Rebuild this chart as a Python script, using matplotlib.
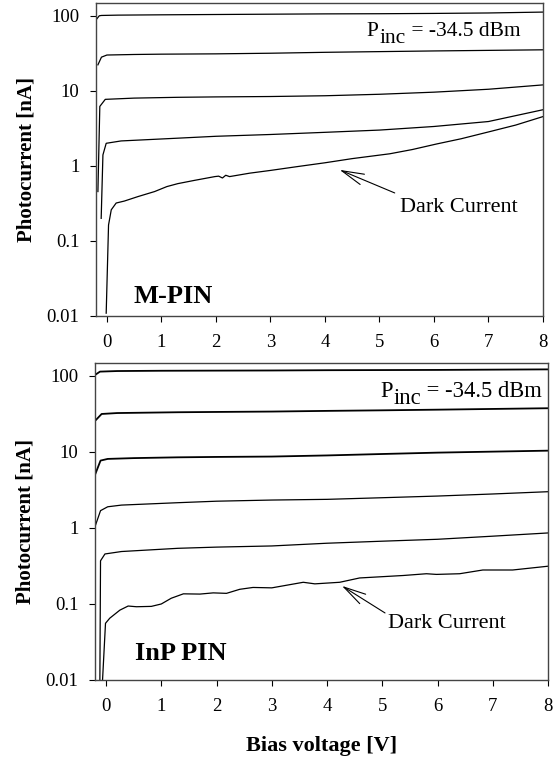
import matplotlib
matplotlib.use("Agg")
import matplotlib.pyplot as plt

plt.rcParams['font.family'] = ['Liberation Serif', 'DejaVu Serif']

# ---------------- M-PIN (top panel) ----------------
mpin_c1_v = [-0.2, -0.14, -0.1, 0.2, 1, 2, 3, 4, 5, 6, 7, 8]
mpin_c1_i = [88, 100, 101, 102, 103, 104, 105, 106, 106.5, 107.5, 109, 112]
mpin_c2_v = [-0.165, -0.1, 0.0, 0.5, 1, 2, 3, 4, 5, 6, 7, 8]
mpin_c2_i = [22.2, 28.1, 30.0, 30.5, 30.8, 31.1, 31.7, 32.6, 33.3, 34.0, 34.6, 35.2]
mpin_c3_v = [-0.165, -0.13, -0.03, 0.5, 1.3, 2, 3, 4, 5, 6, 7, 8]
mpin_c3_i = [0.455, 6.2, 7.7, 8.0, 8.2, 8.3, 8.4, 8.6, 9.0, 9.6, 10.5, 12.0]
mpin_c4_v = [-0.105, -0.073, -0.013, 0.26, 1.3, 2, 3, 4, 5, 6, 7, 8]
mpin_c4_i = [0.2, 1.4, 2.0, 2.15, 2.34, 2.48, 2.62, 2.8, 3.0, 3.35, 3.9, 5.6]
mpin_dark_v = [-0.013, 0.03, 0.08, 0.17, 0.32, 0.57, 0.875, 1.1, 1.3, 1.6, 1.98, 2.05,
               2.12, 2.18, 2.25, 2.62, 3.0, 3.5, 4.0, 4.5, 5.19, 5.6, 6.05, 6.5, 7.03, 7.5, 8.0]
mpin_dark_i = [0.0109, 0.163, 0.26, 0.32, 0.34, 0.39, 0.455, 0.53, 0.58, 0.64, 0.72, 0.73,
               0.69, 0.75, 0.72, 0.80, 0.87, 0.98, 1.1, 1.25, 1.45, 1.65, 1.96, 2.3, 2.87, 3.5, 4.54]

# ---------------- InP PIN (bottom panel) ----------------
inp_c1_v = [-0.2, -0.11, 0.2, 1, 2, 3, 4, 5, 6, 7, 8]
inp_c1_i = [103, 114, 116, 117, 117.5, 118, 119, 119.5, 120, 121, 122]
inp_c2_v = [-0.2, -0.08, 0.2, 1.3, 2, 3, 4, 5, 6, 7, 8]
inp_c2_i = [25.6, 31.6, 32.5, 33.3, 33.6, 34.0, 34.7, 35.3, 36.0, 36.8, 37.6]
inp_c3_v = [-0.2, -0.1, 0.03, 0.5, 1.3, 2, 3, 4, 5, 6, 7, 8]
inp_c3_i = [5.0, 7.7, 8.1, 8.3, 8.5, 8.6, 8.7, 9.0, 9.4, 9.8, 10.1, 10.4]
inp_c4_v = [-0.2, -0.1, 0.03, 0.28, 1.3, 2, 3, 4, 5, 6, 7, 8]
inp_c4_i = [1.04, 1.69, 1.9, 2.0, 2.15, 2.25, 2.33, 2.38, 2.5, 2.63, 2.8, 3.0]
inp_c5_v = [-0.114, -0.10, -0.02, 0.28, 1.3, 2, 3, 4, 5, 6, 7, 8]
inp_c5_i = [0.005, 0.37, 0.455, 0.49, 0.54, 0.56, 0.58, 0.63, 0.67, 0.71, 0.78, 0.86]
inp_dark_v = [-0.085, -0.01, 0.067, 0.25, 0.40, 0.55, 0.82, 1.0, 1.18, 1.4, 1.7, 1.94, 2.18,
              2.42, 2.66, 3.0, 3.57, 3.78, 4.23, 4.59, 5.38, 5.8, 5.98, 6.4, 6.82, 7.36, 8.0]
inp_dark_i = [0.005, 0.0557, 0.065, 0.083, 0.094, 0.092, 0.093, 0.1, 0.119, 0.136, 0.135, 0.14,
              0.138, 0.156, 0.165, 0.163, 0.193, 0.184, 0.193, 0.22, 0.237, 0.25, 0.245, 0.25,
              0.28, 0.28, 0.314]

x_ticks = [0, 1, 2, 3, 4, 5, 6, 7, 8]
y_ticks = [0.01, 0.1, 1, 10, 100]
y_ticklabels = ['0.01', '0.1', '1', '10', '100']

W, H = 556, 758
fig = plt.figure(figsize=(W / 100, H / 100), dpi=100)

def px_axes(l, r, t, b):
    return fig.add_axes([l / W, (H - b) / H, (r - l) / W, (b - t) / H])

ax1 = px_axes(96, 543, 3, 316)
ax2 = px_axes(95, 548, 363, 680)

top_curves = [(mpin_c1_v, mpin_c1_i), (mpin_c2_v, mpin_c2_i), (mpin_c3_v, mpin_c3_i),
              (mpin_c4_v, mpin_c4_i), (mpin_dark_v, mpin_dark_i)]
bot_curves = [(inp_c1_v, inp_c1_i), (inp_c2_v, inp_c2_i), (inp_c3_v, inp_c3_i),
              (inp_c4_v, inp_c4_i), (inp_c5_v, inp_c5_i), (inp_dark_v, inp_dark_i)]

for v, i in top_curves:
    ax1.plot(v, i, color='black', lw=0.9)
for k, (v, i) in enumerate(bot_curves):
    ax2.plot(v, i, color='black', lw=1.3 if k < 3 else 0.9)

for ax in (ax1, ax2):
    ax.set_yscale('log')
    ax.set_xlim(-0.2, 8)
    ax.set_ylim(0.01, 148)
    ax.set_xticks(x_ticks)
    ax.set_xticklabels([str(t) for t in x_ticks])
    ax.set_yticks(y_ticks)
    ax.set_yticklabels(y_ticklabels)
    ax.minorticks_off()
    ax.tick_params(axis='both', direction='out', length=4, width=0.8,
                   labelsize=13.5, color='black')
    ax.tick_params(axis='y', pad=8)
    ax.tick_params(axis='x', pad=9)
    for s in ax.spines.values():
        s.set_color('#444444')
        s.set_linewidth(1.0)
    ax.set_ylabel('Photocurrent [nA]', fontsize=15, fontweight='bold', labelpad=7)

ax2.set_xlabel('Bias voltage [V]', fontsize=16, fontweight='bold', labelpad=15)

# panel labels
ax1.text(0.083, 0.042, 'M-PIN', transform=ax1.transAxes, fontsize=19,
         fontweight='bold', va='baseline', ha='left')
ax2.text(0.088, 0.063, 'InP PIN', transform=ax2.transAxes, fontsize=19,
         fontweight='bold', va='baseline', ha='left')

# incident power labels: P, lowered "inc" at the same size, then the rest
def pinc_label(ax, x, y, fs=15.5):
    tp = ax.text(x, y, 'P', transform=ax.transAxes, fontsize=fs,
                 va='baseline', ha='left')
    ti = ax.annotate('inc', xy=(1, 0), xycoords=tp, xytext=(0.5, -5),
                     textcoords='offset points', fontsize=fs, va='bottom', ha='left')
    ax.annotate(' = -34.5 dBm', xy=(1, 0), xycoords=(ti, tp), xytext=(0, 0),
                textcoords='offset points', fontsize=fs, va='bottom', ha='left')

pinc_label(ax1, 0.606, 0.895, 15.5)
pinc_label(ax2, 0.629, 0.894, 16.3)

# dark current annotations
arrow_kw = dict(arrowstyle='->,head_length=0.8,head_width=0.2', color='black',
                lw=0.8, mutation_scale=20, shrinkA=0, shrinkB=0)
ax1.annotate('', xy=(4.27, 0.885), xytext=(5.28, 0.436), arrowprops=arrow_kw)
ax1.text(5.38, 0.244, 'Dark Current', fontsize=16, va='baseline', ha='left')
ax2.annotate('', xy=(4.27, 0.173), xytext=(5.05, 0.0762), arrowprops=arrow_kw)
ax2.text(5.1, 0.0483, 'Dark Current', fontsize=16, va='baseline', ha='left')

fig.savefig('out.png', dpi=100)
